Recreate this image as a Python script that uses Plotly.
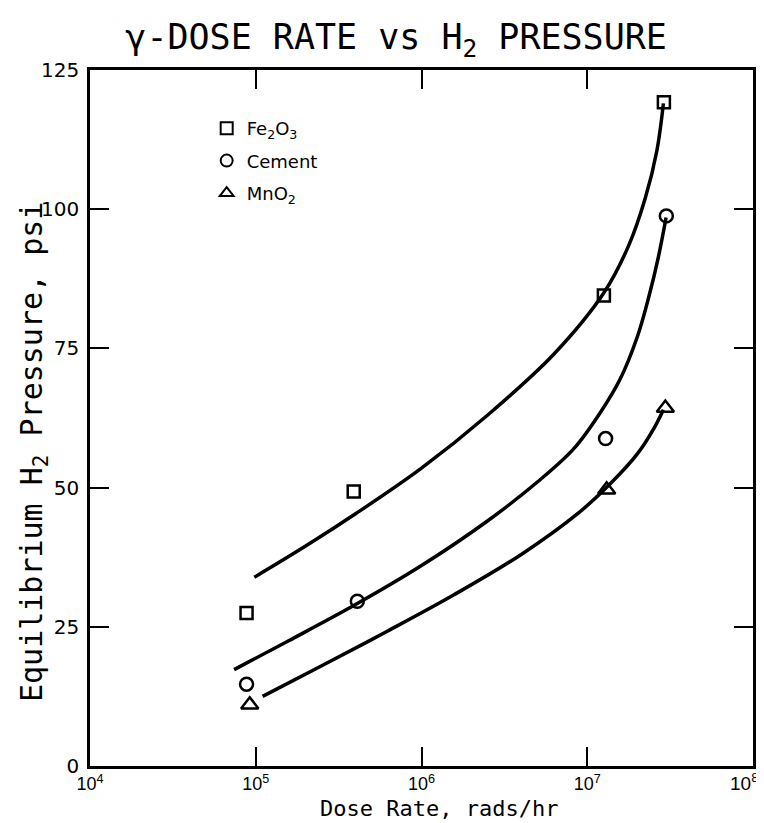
import plotly.graph_objects as go

# Measured points
fe_x = [8.8e4, 3.9e5, 1.26e7, 2.9e7]
fe_y = [27.5, 49.3, 84.5, 119.2]
cem_x = [8.8e4, 4.1e5, 1.29e7, 3.0e7]
cem_y = [14.7, 29.6, 58.8, 98.8]
mn_x = [9.2e4, 1.31e7, 2.96e7]
mn_y = [11.0, 49.6, 64.3]

# Hand-drawn fitted curves
fe_cx = [9.8e4, 2.0e5, 4.0e5, 1.0e6, 2.5e6, 6.3e6, 1.26e7, 1.78e7, 2.24e7, 2.63e7, 2.88e7]
fe_cy = [33.9, 39.5, 45.3, 53.5, 63.0, 74.0, 85.0, 93.5, 102.0, 110.5, 119.0]
cem_cx = [7.4e4, 1.58e5, 4.0e5, 1.0e6, 2.5e6, 5.0e6, 8.3e6, 1.2e7, 1.58e7, 2.0e7, 2.34e7, 2.69e7, 2.99e7]
cem_cy = [17.3, 22.5, 29.0, 36.0, 44.0, 51.0, 57.0, 63.5, 69.5, 77.0, 84.0, 91.5, 98.5]
mn_cx = [1.1e5, 2.5e5, 6.3e5, 1.58e6, 4.0e6, 8.9e6, 1.41e7, 2.0e7, 2.51e7, 2.88e7]
mn_cy = [12.5, 18.0, 24.3, 30.8, 38.0, 45.5, 51.0, 56.0, 60.5, 64.0]

x_tickvals = [1e4, 1e5, 1e6, 1e7, 1e8]
x_ticktext = ["10<sup>4</sup>", "10<sup>5</sup>", "10<sup>6</sup>", "10<sup>7</sup>", "10<sup>8</sup>"]
y_tickvals = [0, 25, 50, 75, 100, 125]

MONO = "DejaVu Sans Mono"
SANS = "DejaVu Sans"
TICKFONT = "Liberation Sans"
fig = go.Figure()

for cx, cy in [(fe_cx, fe_cy), (cem_cx, cem_cy), (mn_cx, mn_cy)]:
    fig.add_trace(go.Scatter(x=cx, y=cy, mode="lines",
                             line=dict(color="black", width=3.5, shape="spline", smoothing=1.0),
                             showlegend=False, hoverinfo="skip"))

fig.add_trace(go.Scatter(x=fe_x, y=fe_y, mode="markers", name="Fe<sub>2</sub>O<sub>3</sub>",
                         legendgroup="a",
                         marker=dict(symbol="square-open", size=12, color="black", line=dict(width=2.5))))
fig.add_trace(go.Scatter(x=cem_x, y=cem_y, mode="markers", name="Cement",
                         legendgroup="b",
                         marker=dict(symbol="circle-open", size=13, color="black", line=dict(width=2.5))))
fig.add_trace(go.Scatter(x=mn_x, y=mn_y, mode="markers", name="MnO<sub>2</sub>",
                         legendgroup="c",
                         marker=dict(symbol="triangle-up-open", size=15, color="black", line=dict(width=2.5))))

# last x tick label drawn separately so it is not clipped at the page edge
last_label = x_ticktext[-1]
shown_ticktext = x_ticktext[:-1] + [""]

fig.update_layout(
    width=764, height=823,
    margin=dict(l=82, r=19, t=62, b=65),
    paper_bgcolor="white", plot_bgcolor="white",
    font=dict(family=SANS, color="black", size=18),
    title=dict(text="γ-DOSE RATE vs H<sub>2</sub> PRESSURE", x=0.508, xanchor="center",
               xref="container", yref="container",
               y=1 - 29 / 823, yanchor="middle", font=dict(size=35, family=MONO, color="black")),
    legend=dict(x=0.176, y=0.9425, xanchor="left", yanchor="top", bgcolor="rgba(0,0,0,0)",
                font=dict(size=18, family=SANS, color="black"), itemsizing="constant",
                traceorder="grouped", tracegroupgap=6),
    showlegend=True,
    annotations=[
        dict(text=last_label, x=1, y=0, xref="paper", yref="paper", xanchor="right", yanchor="top",
             xshift=8, yshift=-2, showarrow=False, font=dict(size=19, family=TICKFONT, color="black")),
        dict(text="Dose Rate, rads/hr", x=0.526, y=-(800 - 758) / 696, xref="paper", yref="paper",
             xanchor="center", yanchor="middle", showarrow=False,
             font=dict(size=22, family=MONO, color="black")),
        dict(text="Equilibrium H<sub>2</sub> Pressure, psi", x=-(82 - 25) / 663, y=(758 - 444) / 696,
             xref="paper", yref="paper", xanchor="center", yanchor="middle", textangle=-90,
             showarrow=False, font=dict(size=30, family=MONO, color="black")),
    ],
)
fig.update_xaxes(type="log", range=[4, 8], tickvals=x_tickvals, ticktext=shown_ticktext,
                 ticks="inside", ticklen=19, tickwidth=2, tickcolor="black",
                 showline=True, linewidth=2.5, linecolor="black", mirror="ticks",
                 showgrid=False, zeroline=False, ticklabelstandoff=0,
                 tickfont=dict(size=18, family=TICKFONT))
fig.update_yaxes(range=[0, 125], tickvals=y_tickvals,
                 ticks="inside", ticklen=19, tickwidth=2, tickcolor="black",
                 showline=True, linewidth=2.5, linecolor="black", mirror="ticks",
                 showgrid=False, zeroline=False, ticklabelstandoff=4,
                 tickfont=dict(size=20, family=SANS))

fig.write_html("out.html")
